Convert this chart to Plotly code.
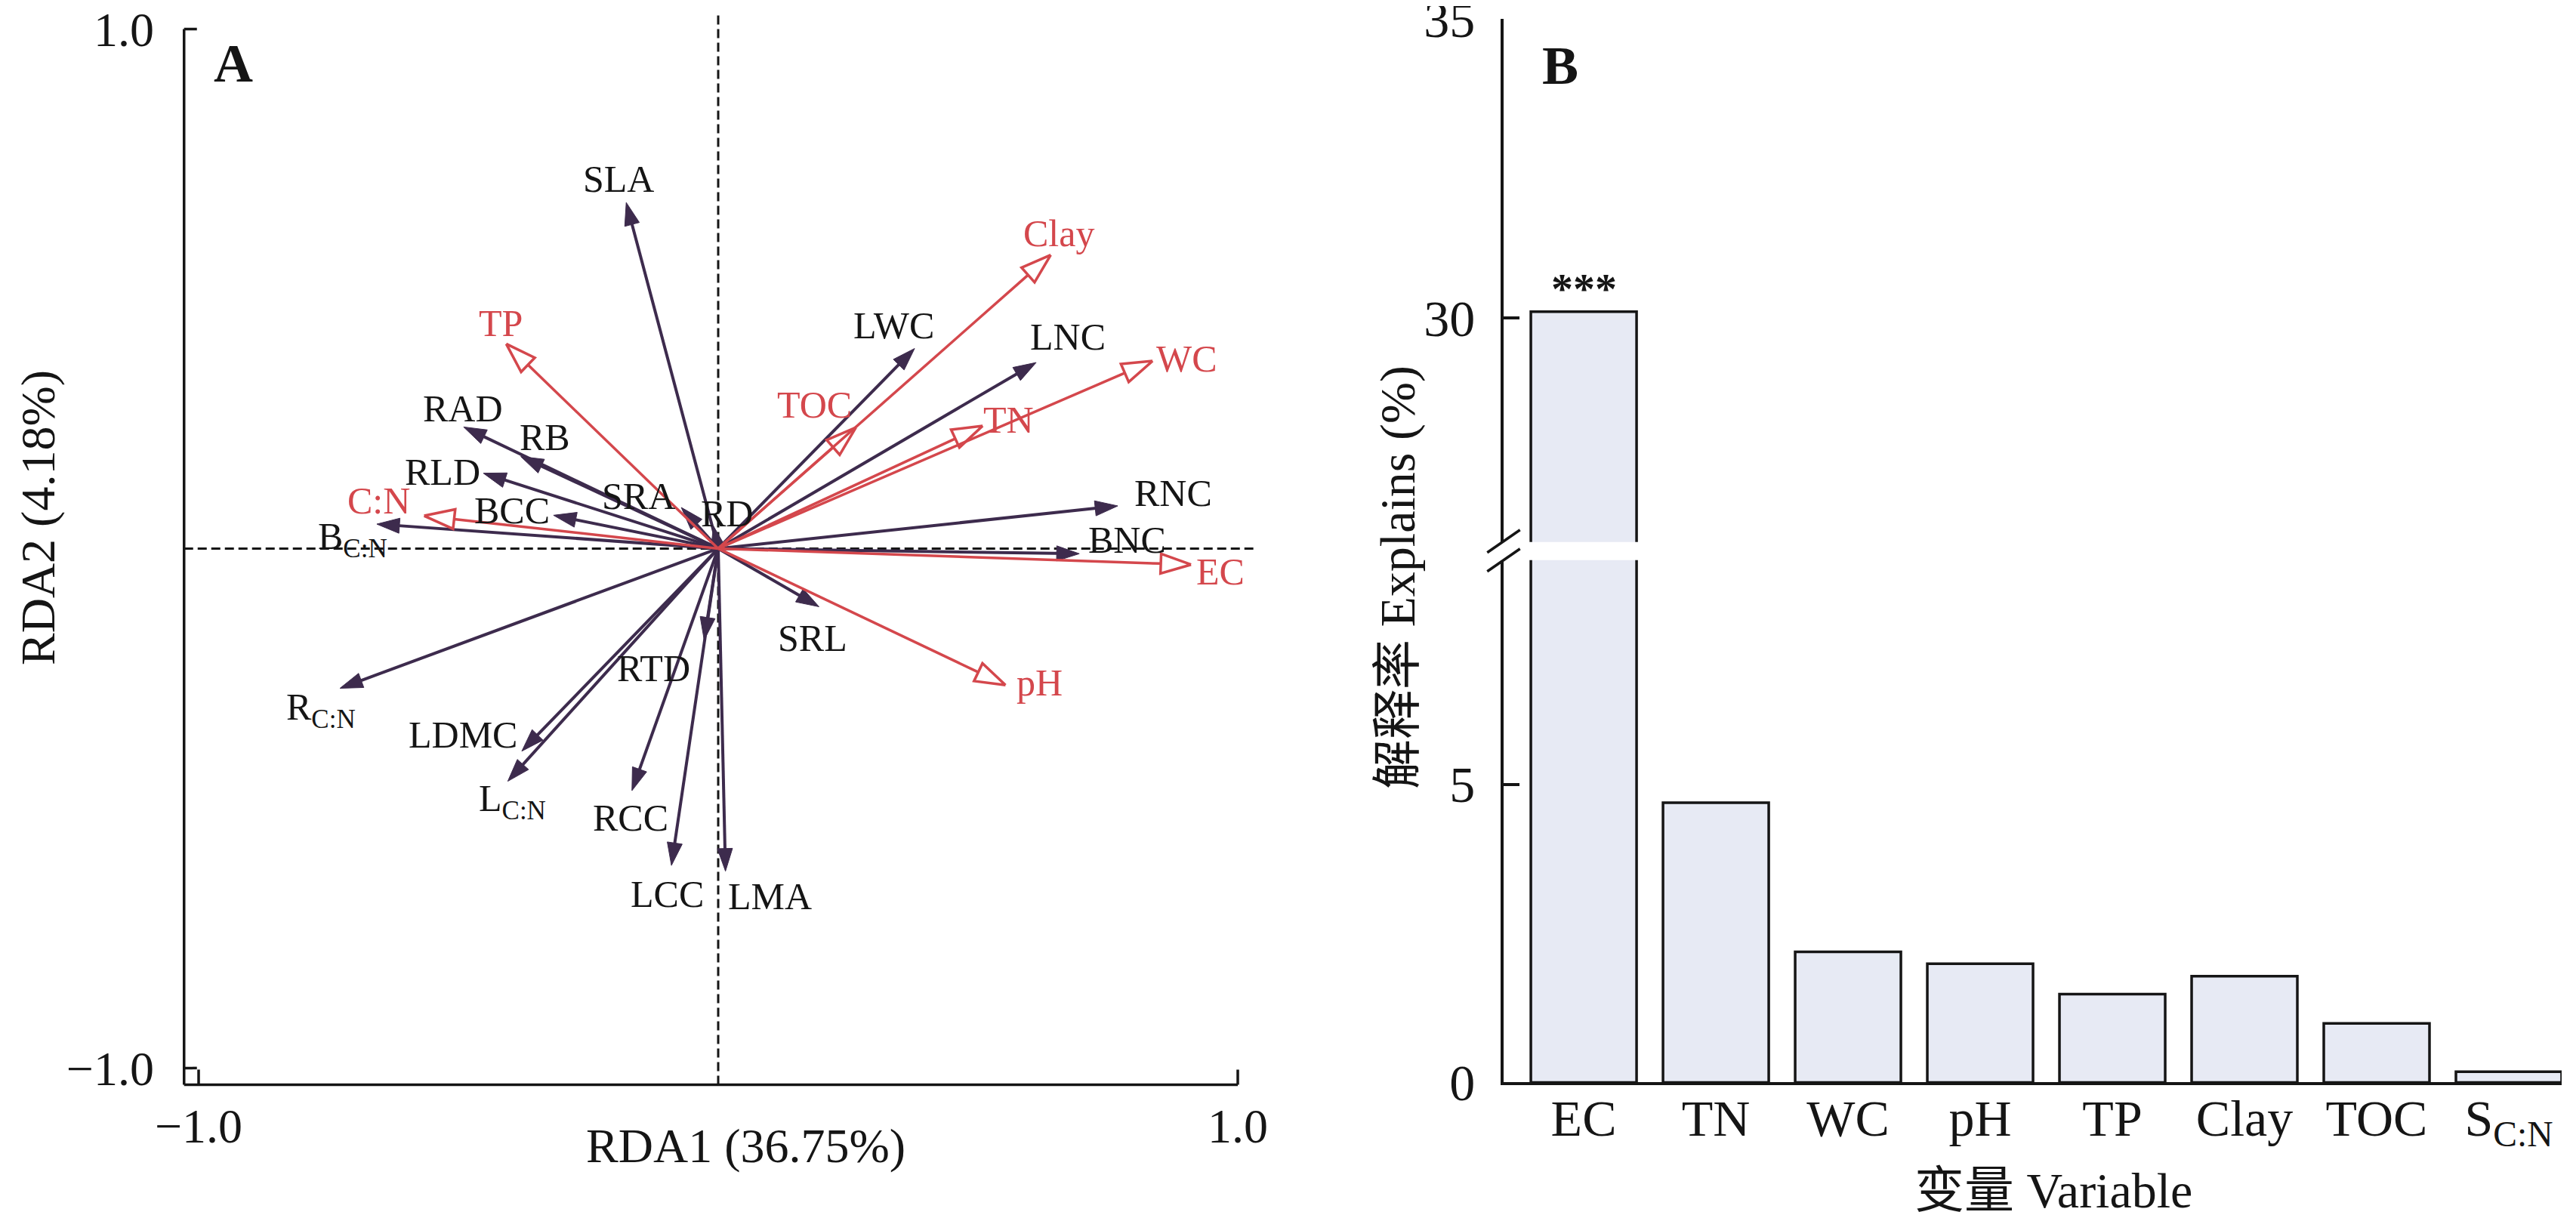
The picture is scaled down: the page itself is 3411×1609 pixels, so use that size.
import math
import plotly.graph_objects as go

# ---------------- data ----------------
# Panel A: plant-trait loadings (dark arrows)
trait_labels = ["SLA", "LWC", "LNC", "RNC", "BNC", "SRL", "LMA", "LCC", "RCC", "RTD",
                "LDMC", "L<sub>C:N</sub>", "R<sub>C:N</sub>", "B<sub>C:N</sub>", "BCC",
                "RLD", "RB", "RAD", "SRA", "RD"]
trait_rda1 = [-0.177, 0.378, 0.612, 0.769, 0.695, 0.194, 0.014, -0.090, -0.166, -0.027,
              -0.378, -0.405, -0.728, -0.657, -0.317, -0.452, -0.380, -0.490, -0.071, -0.009]
trait_rda2 = [0.666, 0.385, 0.358, 0.082, -0.010, -0.112, -0.621, -0.610, -0.466, -0.176,
              -0.390, -0.448, -0.269, 0.047, 0.064, 0.145, 0.177, 0.234, 0.079, 0.043]

# Panel A: soil-factor loadings (red arrows)
soil_labels = ["EC", "TN", "WC", "pH", "TP", "Clay", "TOC", "C:N"]
soil_rda1 = [0.910, 0.509, 0.836, 0.553, -0.408, 0.640, 0.265, -0.566]
soil_rda2 = [-0.031, 0.236, 0.361, -0.263, 0.394, 0.565, 0.233, 0.063]

# Panel B: explained variation (%)
var_labels = ["EC", "TN", "WC", "pH", "TP", "Clay", "TOC", "S<sub>C:N</sub>"]
var_explained = [30.10, 4.69, 2.19, 1.99, 1.48, 1.78, 0.99, 0.18]

# ---------------- style / layout ----------------
PAGE_W, PAGE_H = 3411, 1609
OFF = 8                      # default page margin around the plot div
W, H = PAGE_W - OFF, PAGE_H - OFF
PURPLE = "#3d2b4d"
RED = "#d4474c"
BLACK = "#151515"
BAR_FILL = "#e7eaf4"
FONT = "Liberation Serif, 'Noto Sans CJK SC', serif"

# label offsets (data units) relative to arrow tips
trait_label_offsets = [(-0.015, 0.045), (-0.040, 0.045), (0.061, 0.049), (0.106, 0.024),
                       (0.092, 0.027), (-0.013, -0.060), (0.085, -0.048), (-0.008, -0.055),
                       (-0.003, -0.053), (-0.098, -0.055), (-0.114, 0.032), (0.009, -0.039),
                       (-0.037, -0.041), (-0.046, -0.029), (-0.080, 0.009), (-0.079, 0.002),
                       (0.046, 0.037), (-0.002, 0.036), (-0.083, 0.022), (0.025, 0.024)]
soil_label_offsets = [(0.057, -0.013), (0.050, 0.012), (0.066, 0.004), (0.066, 0.005),
                      (-0.010, 0.040), (0.016, 0.041), (-0.079, 0.044), (-0.087, 0.029)]

# panel A page-pixel geometry
PPU = 688.0            # pixels per unit (equal on both axes)
CX, CY = 951.0, 726.4  # page-pixel position of (0, 0)
XR = [-1.035, 1.04]
YR = [-1.04, 1.035]
AX_X = -1.028          # left axis line
AX_Y = -1.032          # bottom axis line


def pxx(px):
    return (px - OFF) / W


def pxy(py):
    return 1 - (py - OFF) / H


xa_dom = [pxx(CX + XR[0] * PPU), pxx(CX + XR[1] * PPU)]
ya_dom = [pxy(CY - YR[0] * PPU), pxy(CY - YR[1] * PPU)]

# panel B page-pixel geometry
B_LEFT, B_RIGHT = 1990.5, 3392.0
B_ZERO, B_FIVE = 1433.4, 1038.5
B_30, B_35 = 420.7, 25.0
B_LOW_TOP, B_UP_BOT = 741.7, 717.7
low_ppu = (B_ZERO - B_FIVE) / 5.0
up_ppu = (B_30 - B_35) / 5.0
low_range = [0, (B_ZERO - B_LOW_TOP) / low_ppu]
up_range = [30 - (B_UP_BOT - B_30) / up_ppu, 35]


def arrow_geometry(xs, ys, head_len_px, head_w_px, shaft_into_head):
    """Shaft polyline and triangular head outline for arrows from the origin."""
    L = head_len_px / PPU
    hw = head_w_px / 2.0 / PPU
    sx, sy, hx, hy = [], [], [], []
    for x, y in zip(xs, ys):
        d = math.hypot(x, y)
        ux, uy = x / d, y / d
        nx, ny = -uy, ux
        bx, by = x - L * ux, y - L * uy
        ex, ey = x - L * (1 - shaft_into_head) * ux, y - L * (1 - shaft_into_head) * uy
        if d > L:
            sx += [0, ex, None]
            sy += [0, ey, None]
        hx += [x, bx + hw * nx, bx - hw * nx, x, None]
        hy += [y, by + hw * ny, by - hw * ny, y, None]
    return sx, sy, hx, hy


fig = go.Figure()

# ---------------- panel A ----------------
shapes = []
shapes.append(dict(type="line", xref="x", yref="y", x0=AX_X, x1=1.03, y0=0, y1=0,
                   line=dict(color=BLACK, width=3, dash="12px,6px"), layer="below"))
shapes.append(dict(type="line", xref="x", yref="y", x0=0, x1=0, y0=AX_Y, y1=1.03,
                   line=dict(color=BLACK, width=3, dash="12px,6px"), layer="below"))
shapes.append(dict(type="line", xref="x", yref="y", x0=AX_X, x1=AX_X, y0=AX_Y, y1=1.0,
                   line=dict(color=BLACK, width=3.5)))
shapes.append(dict(type="line", xref="x", yref="y", x0=AX_X, x1=1.0, y0=AX_Y, y1=AX_Y,
                   line=dict(color=BLACK, width=3.5)))
for v in (-1.0, 1.0):
    shapes.append(dict(type="line", xref="x", yref="y", x0=AX_X, x1=AX_X + 17 / PPU, y0=v, y1=v,
                       line=dict(color=BLACK, width=3.5)))
    shapes.append(dict(type="line", xref="x", yref="y", x0=v, x1=v, y0=AX_Y, y1=AX_Y + 20 / PPU,
                       line=dict(color=BLACK, width=3.5)))

# dark (trait) arrows
tsx, tsy, thx, thy = arrow_geometry(trait_rda1, trait_rda2, 30, 20, 0.5)
fig.add_trace(go.Scatter(x=tsx, y=tsy, mode="lines", xaxis="x", yaxis="y",
                         line=dict(color=PURPLE, width=4), hoverinfo="skip", showlegend=False))
fig.add_trace(go.Scatter(x=thx, y=thy, mode="lines", xaxis="x", yaxis="y", fill="toself",
                         fillcolor=PURPLE, line=dict(color=PURPLE, width=1),
                         hoverinfo="skip", showlegend=False))

# red (soil) arrows with hollow heads
ssx, ssy, shx, shy = arrow_geometry(soil_rda1, soil_rda2, 40, 26, 0.0)
fig.add_trace(go.Scatter(x=ssx, y=ssy, mode="lines", xaxis="x", yaxis="y",
                         line=dict(color=RED, width=3.5), hoverinfo="skip", showlegend=False))
fig.add_trace(go.Scatter(x=shx, y=shy, mode="lines", xaxis="x", yaxis="y",
                         line=dict(color=RED, width=3.5), hoverinfo="skip", showlegend=False))

annotations = []
for name, x, y, (dx, dy) in zip(trait_labels, trait_rda1, trait_rda2, trait_label_offsets):
    annotations.append(dict(x=x + dx, y=y + dy, xref="x", yref="y", text=name, showarrow=False,
                            font=dict(family=FONT, size=50, color=BLACK),
                            xanchor="center", yanchor="middle"))
for name, x, y, (dx, dy) in zip(soil_labels, soil_rda1, soil_rda2, soil_label_offsets):
    annotations.append(dict(x=x + dx, y=y + dy, xref="x", yref="y", text=name, showarrow=False,
                            font=dict(family=FONT, size=50, color=RED),
                            xanchor="center", yanchor="middle"))

annotations.append(dict(x=pxx(309), y=pxy(84), xref="paper", yref="paper", text="<b>A</b>",
                        showarrow=False, font=dict(family=FONT, size=72, color=BLACK),
                        xanchor="center", yanchor="middle"))
annotations.append(dict(x=pxx(987), y=pxy(1517), xref="paper", yref="paper",
                        text="RDA1 (36.75%)", showarrow=False,
                        font=dict(family=FONT, size=64, color=BLACK),
                        xanchor="center", yanchor="middle"))
annotations.append(dict(x=pxx(50), y=pxy(686), xref="paper", yref="paper",
                        text="RDA2 (4.18%)", showarrow=False, textangle=-90,
                        font=dict(family=FONT, size=64, color=BLACK),
                        xanchor="center", yanchor="middle"))

# ---------------- panel B ----------------
xpos = list(range(len(var_labels)))
for ya in ("y2", "y3"):
    fig.add_trace(go.Bar(
        x=xpos, y=var_explained, xaxis="x2", yaxis=ya, width=0.8,
        marker=dict(color=BAR_FILL, line=dict(color=BLACK, width=3.5)),
        hoverinfo="skip", showlegend=False))

annotations.append(dict(x=0, y=var_explained[0], xref="x2", yref="y3", text="<b>***</b>",
                        showarrow=False, font=dict(family=FONT, size=58, color=BLACK),
                        xanchor="center", yanchor="bottom", yshift=-4))
annotations.append(dict(x=pxx(2066), y=pxy(87), xref="paper", yref="paper", text="<b>B</b>",
                        showarrow=False, font=dict(family=FONT, size=72, color=BLACK),
                        xanchor="center", yanchor="middle"))
annotations.append(dict(x=pxx(2719), y=pxy(1576), xref="paper", yref="paper",
                        text="变量 Variable", showarrow=False,
                        font=dict(family=FONT, size=66, color=BLACK),
                        xanchor="center", yanchor="middle"))
annotations.append(dict(x=pxx(1851), y=pxy(765), xref="paper", yref="paper",
                        text="解释率 Explains (%)", showarrow=False, textangle=-90,
                        font=dict(family=FONT, size=66, color=BLACK),
                        xanchor="center", yanchor="middle"))

# axis-break slashes
for (x0, y0, x1, y1) in [(1969.3, 731.7, 2012.7, 701.7), (1969.3, 756.7, 2012.7, 726.7)]:
    shapes.append(dict(type="line", xref="paper", yref="paper",
                       x0=pxx(x0), y0=pxy(y0), x1=pxx(x1), y1=pxy(y1),
                       line=dict(color=BLACK, width=3.5)))

tickfontA = dict(family=FONT, size=64, color=BLACK)
tickfontB = dict(family=FONT, size=68, color=BLACK)
common = dict(showgrid=False, zeroline=False, automargin=False, fixedrange=True,
              ticklabeloverflow="allow")

fig.update_layout(
    template="none",
    width=W, height=H, margin=dict(l=0, r=0, t=0, b=0, pad=0, autoexpand=False),
    paper_bgcolor="white", plot_bgcolor="rgba(0,0,0,0)",
    showlegend=False, bargap=0.2,
    xaxis=dict(domain=xa_dom, range=XR, anchor="y", showline=False, ticks="",
               tickvals=[-1, 1], ticktext=["−1.0", "1.0"],
               tickfont=tickfontA, ticklabelstandoff=6, **common),
    yaxis=dict(domain=ya_dom, range=YR, anchor="x", showline=False, ticks="",
               tickvals=[-1, 1], ticktext=["−1.0", "1.0"],
               tickfont=tickfontA, ticklabelstandoff=34, **common),
    xaxis2=dict(domain=[pxx(B_LEFT), pxx(B_RIGHT)], range=[-0.609, 7.40], anchor="y2",
                showline=True, linecolor=BLACK, linewidth=3.5,
                ticks="", tickvals=xpos, ticktext=var_labels, tickfont=tickfontB,
                ticklabelstandoff=-15, **common),
    yaxis2=dict(domain=[pxy(B_ZERO), pxy(B_LOW_TOP)], range=low_range, anchor="x2",
                showline=True, linecolor=BLACK, linewidth=3.5,
                ticks="inside", ticklen=22, tickwidth=3.5, tickcolor=BLACK,
                tickvals=[0, 5], ticktext=["0", "5"], tickfont=tickfontB,
                ticklabelstandoff=20, **common),
    yaxis3=dict(domain=[pxy(B_UP_BOT), pxy(B_35)], range=up_range, anchor="x2",
                showline=True, linecolor=BLACK, linewidth=3.5,
                ticks="inside", ticklen=22, tickwidth=3.5, tickcolor=BLACK,
                tickvals=[30, 35], ticktext=["30", "35"], tickfont=tickfontB,
                ticklabelstandoff=20, **common),
    shapes=shapes, annotations=annotations,
)

fig.write_html("out.html")
